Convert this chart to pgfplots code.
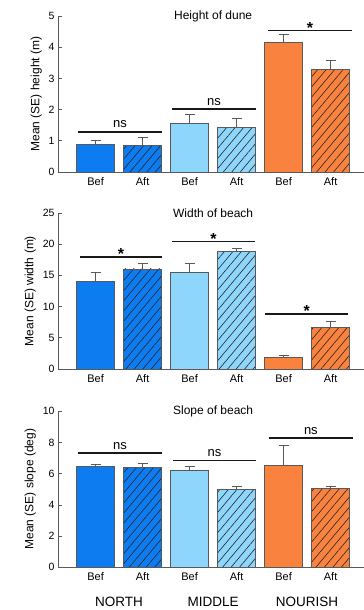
\documentclass[border=0pt]{standalone}
\usepackage{pgfplots}
\pgfplotsset{compat=1.18}
\usepackage{fontspec}
\setmainfont{Liberation Sans}
\usetikzlibrary{patterns.meta}
\definecolor{cnorth}{RGB}{12,124,240}
\definecolor{cmid}{RGB}{142,214,251}
\definecolor{cnour}{RGB}{249,130,62}
\newcommand{\ticksize}{\fontsize{10.5bp}{12bp}\selectfont}
\newcommand{\labsize}{\fontsize{12bp}{13bp}\selectfont}
\newcommand{\titsize}{\fontsize{12bp}{13bp}\selectfont}
\newcommand{\sigsize}{\fontsize{13bp}{14bp}\selectfont}
\newcommand{\starsize}{\fontsize{16bp}{16bp}\selectfont\bfseries}
\newcommand{\grpsize}{\fontsize{13.5bp}{14bp}\selectfont}
\pgfplotsset{
  panel/.style={
    scale only axis, width=306bp, height=156bp,
    xmin=-0.8, xmax=5.71, ymin=0,
    axis x line*=bottom, axis y line*=left,
    axis line style={draw=black!65, line width=0.6bp},
    xtick={0,...,5}, xticklabels={Bef,Aft,Bef,Aft,Bef,Aft},
    x tick style={draw=none},
    y tick style={draw=black!65, line width=0.6bp},
    tick align=inside, major tick length=4bp,
    tick label style={font=\ticksize},
    xticklabel style={yshift=-2bp, font=\fontsize{11bp}{12bp}\selectfont},
    /pgf/number format/assume math mode=true,
    ylabel style={font=\labsize},
    clip=false,
  },
  bar/.style={ybar, bar width=38bp, bar shift=0pt, fill=#1, draw=black!65, line width=0.5bp,
    error bars/.cd, y dir=plus, y explicit,
    error bar style={draw=black!65, line width=0.7bp},
    error mark options={rotate=90, mark size=5bp, line width=0.7bp, draw=black!65}},
  hbar/.style={postaction={pattern color=black!85, pattern={Lines[angle=50,distance=6.5bp,line width=0.6bp]}}, bar=#1},
  sig/.style={black!90, line width=1.7bp, no marks, forget plot},
}
\begin{document}
\begin{tikzpicture}
\path[use as bounding box] (0,0) rectangle (364bp,610bp);
% Panel 1
\begin{axis}[panel, at={(58bp,438bp)}, anchor=south west, ymax=5, ytick={0,1,2,3,4,5},
  ylabel={Mean (SE) height (m)}]
\addplot[bar=cnorth] coordinates {(0,0.90) +- (0,0.12)};
\addplot[hbar=cnorth] coordinates {(1,0.86) +- (0,0.25)};
\addplot[bar=cmid] coordinates {(2,1.57) +- (0,0.27)};
\addplot[hbar=cmid] coordinates {(3,1.43) +- (0,0.30)};
\addplot[bar=cnour] coordinates {(4,4.16) +- (0,0.24)};
\addplot[hbar=cnour] coordinates {(5,3.30) +- (0,0.28)};
\addplot[sig] coordinates {(-0.37,1.29) (1.41,1.29)};
\addplot[sig] coordinates {(1.63,2.01) (3.41,2.01)};
\addplot[sig] coordinates {(3.67,4.54) (5.46,4.54)};
\node[anchor=base, font=\sigsize, yshift=4bp] at (axis cs:0.52,1.29) {ns};
\node[anchor=base, font=\sigsize, yshift=4bp] at (axis cs:2.52,2.01) {ns};
\node[anchor=base, font=\starsize, yshift=-3bp] at (axis cs:4.56,4.54) {*};
\node[font=\titsize] at (axis cs:2.5,5) {Height of dune};
\end{axis}
% Panel 2
\begin{axis}[panel, at={(58bp,241bp)}, anchor=south west, ymax=25, ytick={0,5,10,15,20,25},
  ylabel={Mean (SE) width (m)}]
\addplot[bar=cnorth] coordinates {(0,14.13) +- (0,1.40)};
\addplot[hbar=cnorth] coordinates {(1,16.06) +- (0,0.95)};
\addplot[bar=cmid] coordinates {(2,15.52) +- (0,1.45)};
\addplot[hbar=cmid] coordinates {(3,18.79) +- (0,0.60)};
\addplot[bar=cnour] coordinates {(4,1.87) +- (0,0.33)};
\addplot[hbar=cnour] coordinates {(5,6.64) +- (0,1.02)};
\addplot[sig] coordinates {(-0.33,17.99) (1.41,17.99)};
\addplot[sig] coordinates {(1.63,20.45) (3.39,20.45)};
\addplot[sig] coordinates {(3.60,8.83) (5.37,8.83)};
\node[anchor=base, font=\starsize, yshift=-3bp] at (axis cs:0.54,17.99) {*};
\node[anchor=base, font=\starsize, yshift=-3bp] at (axis cs:2.51,20.45) {*};
\node[anchor=base, font=\starsize, yshift=-3bp] at (axis cs:4.49,8.83) {*};
\node[font=\titsize] at (axis cs:2.5,25) {Width of beach};
\end{axis}
% Panel 3
\begin{axis}[panel, at={(58bp,42.7bp)}, anchor=south west, ymax=10, ytick={0,2,4,6,8,10},
  ylabel={Mean (SE) slope (deg)}]
\addplot[bar=cnorth] coordinates {(0,6.47) +- (0,0.15)};
\addplot[hbar=cnorth] coordinates {(1,6.42) +- (0,0.26)};
\addplot[bar=cmid] coordinates {(2,6.23) +- (0,0.24)};
\addplot[hbar=cmid] coordinates {(3,4.99) +- (0,0.19)};
\addplot[bar=cnour] coordinates {(4,6.55) +- (0,1.29)};
\addplot[hbar=cnour] coordinates {(5,5.05) +- (0,0.17)};
\addplot[sig] coordinates {(-0.37,7.32) (1.41,7.32)};
\addplot[sig] coordinates {(1.65,6.85) (3.41,6.85)};
\addplot[sig] coordinates {(3.69,8.27) (5.48,8.27)};
\node[anchor=base, font=\sigsize, yshift=4bp] at (axis cs:0.52,7.32) {ns};
\node[anchor=base, font=\sigsize, yshift=4bp] at (axis cs:2.53,6.85) {ns};
\node[anchor=base, font=\sigsize, yshift=4bp] at (axis cs:4.58,8.27) {ns};
\node[font=\titsize] at (axis cs:2.5,10) {Slope of beach};
\node[font=\grpsize] at (axis cs:0.5,0) [yshift=-34.4bp] {NORTH};
\node[font=\grpsize] at (axis cs:2.5,0) [yshift=-34.4bp] {MIDDLE};
\node[font=\grpsize] at (axis cs:4.5,0) [yshift=-34.4bp] {NOURISH};
\end{axis}
\end{tikzpicture}
\end{document}
